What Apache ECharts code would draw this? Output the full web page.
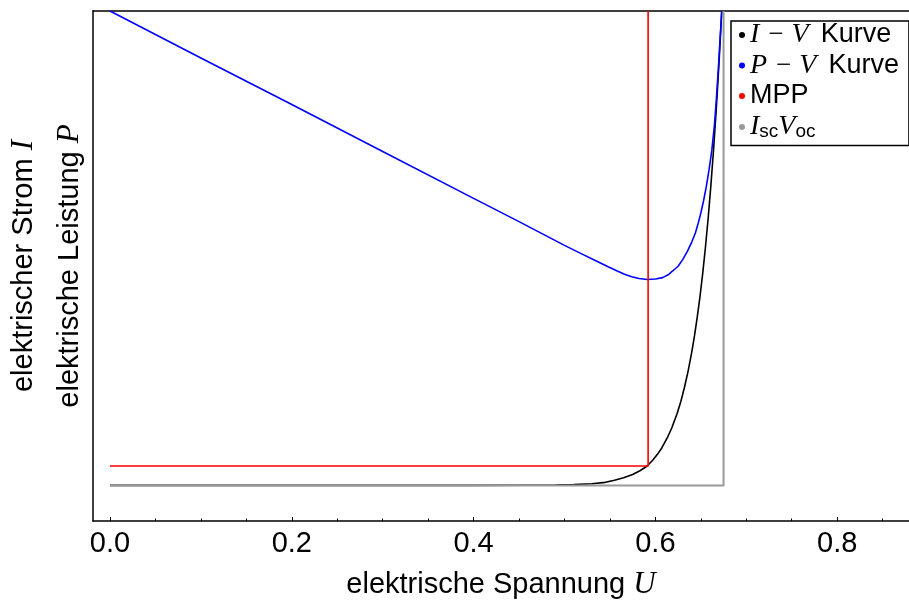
<!DOCTYPE html>
<html><head><meta charset="utf-8">
<script src="https://cdn.jsdelivr.net/npm/echarts@6/dist/echarts.min.js"></script>
<style>html,body{margin:0;padding:0;background:#fff;overflow:hidden}#c{width:909px;height:600px}</style>
</head><body><div id="c"></div>
<script>
// ---- data ----
const xTickValues = [0, 0.2, 0.4, 0.6, 0.8];
const xTickLabels = ['0.0', '0.2', '0.4', '0.6', '0.8'];
const xMinorTickValues = [0.05, 0.1, 0.15, 0.25, 0.3, 0.35, 0.45, 0.5, 0.55, 0.65, 0.7, 0.75, 0.85];

// I-V curve (black)
const ivVoltage = [0, 0.1, 0.2, 0.3, 0.4, 0.45, 0.47, 0.49, 0.51, 0.53, 0.545, 0.555, 0.565, 0.575, 0.583, 0.591, 0.597, 0.602, 0.607, 0.613, 0.618, 0.624, 0.628, 0.632, 0.636, 0.640, 0.643, 0.646, 0.649, 0.652, 0.655, 0.658, 0.661, 0.664, 0.667, 0.670, 0.673];
const ivCurrent = [0, 0, 0, 0, 0, 0.0002, 0.0005, 0.001, 0.002, 0.0035, 0.0065, 0.011, 0.016, 0.023, 0.031, 0.041, 0.053, 0.065, 0.079, 0.100, 0.121, 0.152, 0.177, 0.207, 0.241, 0.281, 0.315, 0.354, 0.397, 0.446, 0.501, 0.562, 0.631, 0.708, 0.794, 0.891, 1.0];

// P-V curve (blue)
const pvVoltage = [0, 0.1, 0.2, 0.3, 0.4, 0.45, 0.5, 0.52, 0.535, 0.548, 0.558, 0.566, 0.574, 0.582, 0.591, 0.600, 0.608, 0.614, 0.619, 0.625, 0.630, 0.635, 0.640, 0.644, 0.647, 0.650, 0.653, 0.656, 0.659, 0.662, 0.665, 0.667, 0.669, 0.671, 0.673];
const pvPower   = [1.0, 0.901, 0.803, 0.704, 0.605, 0.556, 0.506, 0.487, 0.473, 0.461, 0.452, 0.445, 0.440, 0.436, 0.434, 0.435, 0.438, 0.444, 0.452, 0.462, 0.476, 0.493, 0.513, 0.532, 0.552, 0.574, 0.600, 0.630, 0.665, 0.705, 0.760, 0.812, 0.870, 0.935, 1.0];

// MPP marker (red) and Isc/Voc marker (gray)
const mppVoltage = [0, 0.592, 0.592];
const mppLevel   = [0.041, 0.041, 1.0];
const iscVocVoltage = [0, 0.675, 0.675];
const iscVocLevel   = [0, 0, 1.0];

const seriesNames = ['IV', 'PV', 'MPP', 'IscVoc'];
const legendLabels = {
  IV: '{i|I}{m|\u2212}{i|V}{k|Kurve}',
  PV: '{i|P}{m|\u2212}{i|V}{k|Kurve}',
  MPP: '{s|MPP}',
  IscVoc: '{i|I}{sub|sc}{i|V}{sub|oc}'
};

const zip = (a, b) => a.map((v, k) => [v, b[k]]);

const X_MIN = -0.0187, X_MAX = 0.879;
const Y_MIN = -0.075, Y_MAX = 1.0;

const chart = echarts.init(document.getElementById('c'), null, { renderer: 'canvas' });

const sans = 'Liberation Sans, Arial, sans-serif';
const serif = 'Liberation Serif, Times New Roman, serif';

chart.setOption({
  animation: false,
  backgroundColor: '#fff',
  grid: { left: 93, top: 11, right: 0, bottom: 79, show: false, containLabel: false, outerBoundsMode: 'none' },
  legend: {
    show: true,
    selectedMode: false,
    orient: 'vertical',
    left: 731, top: 21,
    data: seriesNames,
    icon: 'circle',
    itemWidth: 6, itemHeight: 6,
    itemGap: 2.5,
    padding: [0, 10, 4, 8],
    backgroundColor: '#fff',
    borderColor: '#000',
    borderWidth: 1.5,
    formatter: n => legendLabels[n],
    textStyle: {
      color: '#000', fontSize: 27, fontFamily: sans, lineHeight: 28,
      rich: {
        s: { fontSize: 27, fontFamily: sans, color: '#000', lineHeight: 28 },
        k: { fontSize: 27, fontFamily: sans, color: '#000', lineHeight: 28, padding: [0, 0, 0, 12] },
        i: { fontSize: 28, fontFamily: serif, fontStyle: 'italic', color: '#000', lineHeight: 28 },
        m: { fontSize: 27, fontFamily: serif, color: '#000', lineHeight: 28, padding: [0, 8, 0, 9] },
        sub: { fontSize: 19, fontFamily: sans, color: '#000', lineHeight: 18, padding: [10, 0, 0, 0] }
      }
    }
  },
  xAxis: [
    {
      type: 'value', min: X_MIN, max: X_MAX, position: 'bottom',
      axisLine: { show: true, onZero: false, lineStyle: { color: '#000', width: 1.5 } },
      axisTick: { show: true, inside: true, length: 4, customValues: xTickValues, lineStyle: { color: '#000', width: 1 } },
      axisLabel: {
        show: true, customValues: xTickValues, margin: 8,
        formatter: v => xTickLabels[xTickValues.findIndex(t => Math.abs(t - v) < 1e-9)],
        color: '#000', fontSize: 29, fontFamily: sans
      },
      splitLine: { show: false },
      name: '{s|elektrische Spannung }{i|U}',
      nameLocation: 'middle', nameGap: 48,
      nameTextStyle: {
        color: '#000', fontSize: 29, fontFamily: sans,
        rich: {
          s: { fontSize: 29, fontFamily: sans, color: '#000' },
          i: { fontSize: 31, fontFamily: serif, fontStyle: 'italic', color: '#000' }
        }
      }
    },
    {
      type: 'value', min: X_MIN, max: X_MAX, position: 'bottom',
      axisLine: { show: false, onZero: false },
      axisTick: { show: true, inside: true, length: 2.5, customValues: xMinorTickValues, lineStyle: { color: '#000', width: 1 } },
      axisLabel: { show: false },
      splitLine: { show: false }
    },
    {
      type: 'value', min: X_MIN, max: X_MAX, position: 'top',
      axisLine: { show: true, onZero: false, lineStyle: { color: '#000', width: 1.5 } },
      axisTick: { show: false }, axisLabel: { show: false }, splitLine: { show: false }
    }
  ],
  yAxis: {
    type: 'value', min: Y_MIN, max: Y_MAX,
    axisLine: { show: true, onZero: false, lineStyle: { color: '#000', width: 1.5 } },
    axisTick: { show: false }, axisLabel: { show: false }, splitLine: { show: false },
    name: '{s|elektrischer Strom }{i|I}\n{s|elektrische Leistung }{i|P}',
    nameLocation: 'middle', nameRotate: 90, nameGap: 0,
    nameTextStyle: {
      color: '#000', fontSize: 29, fontFamily: sans, lineHeight: 46,
      rich: {
        s: { fontSize: 29, fontFamily: sans, color: '#000', lineHeight: 46 },
        i: { fontSize: 31, fontFamily: serif, fontStyle: 'italic', color: '#000', lineHeight: 46 }
      }
    }
  },
  series: [
    { name: 'IV', type: 'line', data: zip(ivVoltage, ivCurrent), showSymbol: false, symbol: 'none',
      lineStyle: { color: '#000', width: 1.6 }, itemStyle: { color: '#000' }, z: 2 },
    { name: 'PV', type: 'line', data: zip(pvVoltage, pvPower), showSymbol: false, symbol: 'none',
      lineStyle: { color: '#0000ff', width: 1.6 }, itemStyle: { color: '#0000ff' }, z: 3 },
    { name: 'MPP', type: 'line', data: zip(mppVoltage, mppLevel), showSymbol: false, symbol: 'none',
      lineStyle: { color: '#ff0000', width: 1.6 }, itemStyle: { color: '#ff0000' }, z: 4 },
    { name: 'IscVoc', type: 'line', data: zip(iscVocVoltage, iscVocLevel), showSymbol: false, symbol: 'none',
      lineStyle: { color: '#999999', width: 2 }, itemStyle: { color: '#999999' }, z: 5 }
  ]
});
</script>
</body></html>
